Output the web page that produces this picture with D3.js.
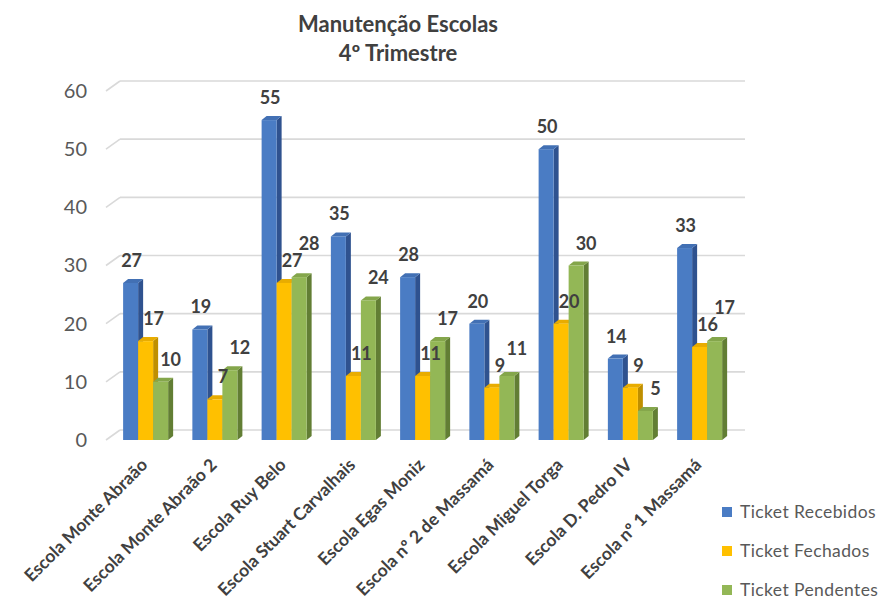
<!DOCTYPE html>
<html><head><meta charset="utf-8">
<script src="https://cdn.jsdelivr.net/npm/d3@7"></script>
<style>body{margin:0;background:#fff}svg{display:block}</style>
</head><body>
<svg id="c" width="885" height="608"></svg>
<script>
const categories = ["Escola Monte Abraão","Escola Monte Abraão 2","Escola Ruy Belo","Escola Stuart Carvalhais","Escola Egas Moniz","Escola nº 2 de Massamá","Escola Miguel Torga","Escola D. Pedro IV","Escola nº 1 Massamá"];
const recebidos = [27,19,55,35,28,20,50,14,33];
const fechados  = [17,7,27,11,11,9,20,9,16];
const pendentes = [10,12,28,24,17,11,30,5,17];
const seriesNames = ["Ticket Recebidos","Ticket Fechados","Ticket Pendentes"];
const yTicks = [0,10,20,30,40,50,60];
const titleLines = ["Manutenção Escolas","4º Trimestre"];

const series = [recebidos, fechados, pendentes];
const colors = [
  {front:"#4a7cc4", top:"#4270b4", side:"#2f528f"},
  {front:"#ffc000", top:"#e8ac00", side:"#bf8f00"},
  {front:"#93b756", top:"#84a64b", side:"#627e34"}
];
const labelDx = [1, 8, 10];

const svg = d3.select("#c");
const font = "Lato, 'Open Sans', sans-serif";

const y = d3.scaleLinear().domain([0,60]).range([440, 91]);
const x0 = d3.scaleBand().domain(categories).range([111, 734.25]).paddingInner(0.35).paddingOuter(0.175);
const x1 = d3.scaleBand().domain([0,1,2]).range([0, x0.bandwidth()]);

const wallDx = 14, wallDy = -10;
const barDx = 5, barDy = -4;

// gridlines (back wall) + slanted side ticks
const grid = svg.append("g");
yTicks.forEach(t => {
  const yf = y(t);
  grid.append("line").attr("x1", 120).attr("x2", 745).attr("y1", yf + wallDy).attr("y2", yf + wallDy)
    .attr("stroke", "#d9d9d9").attr("stroke-width", 1.6);
  grid.append("line").attr("x1", 106).attr("y1", yf).attr("x2", 106 + wallDx).attr("y2", yf + wallDy)
    .attr("stroke", "#d9d9d9").attr("stroke-width", 1.6);
});

// y axis via d3 axis (labels only)
const yAxis = svg.append("g").attr("transform", "translate(96,0)")
  .call(d3.axisLeft(y).tickValues(yTicks).tickSize(0).tickPadding(9));
yAxis.select(".domain").remove();
yAxis.selectAll("text").attr("font-family", font).attr("font-size", 20).attr("fill", "#595959");

// bars
const groups = svg.append("g").selectAll("g").data(categories).join("g")
  .attr("transform", d => `translate(${x0(d)},0)`);

groups.each(function(cat, i) {
  const g = d3.select(this);
  series.forEach((s, k) => {
    const v = s[i];
    const xl = x1(k), w = x1.bandwidth();
    const yt = y(v), yb = y(0);
    const c = colors[k];
    g.append("path").attr("d", `M${xl+w},${yt} L${xl+w+barDx},${yt+barDy} L${xl+w+barDx},${yb+barDy} L${xl+w},${yb} Z`).attr("fill", c.side);
    g.append("path").attr("d", `M${xl},${yt} L${xl+barDx},${yt+barDy} L${xl+w+barDx},${yt+barDy} L${xl+w},${yt} Z`).attr("fill", c.top);
    g.append("rect").attr("x", xl).attr("y", yt).attr("width", w).attr("height", yb - yt).attr("fill", c.front);
  });
});

// data labels (with simple collision avoidance between neighbours)
const labelH = 17, labelW = 22;
groups.each(function(cat, i) {
  const g = d3.select(this);
  const placed = [];
  series.forEach((s, k) => {
    const v = s[i];
    const lx = x1(k) + x1.bandwidth()/2 + labelDx[k];
    let ly = y(v) - 16;
    placed.forEach(p => {
      if (Math.abs(p.x - lx) < labelW && Math.abs(p.y - ly) < labelH) ly = p.y - labelH;
    });
    placed.push({x: lx, y: ly});
    g.append("text").attr("x", lx).attr("y", ly)
      .attr("text-anchor", "middle").attr("font-family", font).attr("font-weight", "bold")
      .attr("font-size", 18).attr("fill", "#404040").text(v);
  });
});

// x labels
const xl = svg.append("g");
categories.forEach(cat => {
  const cx = x0(cat) + x0.bandwidth()/2 + 3;
  xl.append("text").attr("transform", `translate(${cx},466) rotate(-45)`)
    .attr("text-anchor", "end").attr("font-family", font).attr("font-weight", "bold")
    .attr("font-size", 17.5).attr("fill", "#404040").text(cat);
});

// title
titleLines.forEach((t, i) => {
  svg.append("text").attr("x", 398).attr("y", 32 + i*29).attr("text-anchor", "middle")
    .attr("font-family", font).attr("font-weight", "bold").attr("font-size", 22)
    .attr("fill", "#404040").text(t);
});

// legend
seriesNames.forEach((n, k) => {
  const ly = 512 + k*39;
  svg.append("rect").attr("x", 722).attr("y", ly - 5).attr("width", 10).attr("height", 10).attr("fill", colors[k].front);
  svg.append("text").attr("x", 740).attr("y", ly + 6).attr("font-family", font)
    .attr("font-size", 17.5).attr("letter-spacing", 0.4).attr("fill", "#595959").text(n);
});
</script>
</body></html>
